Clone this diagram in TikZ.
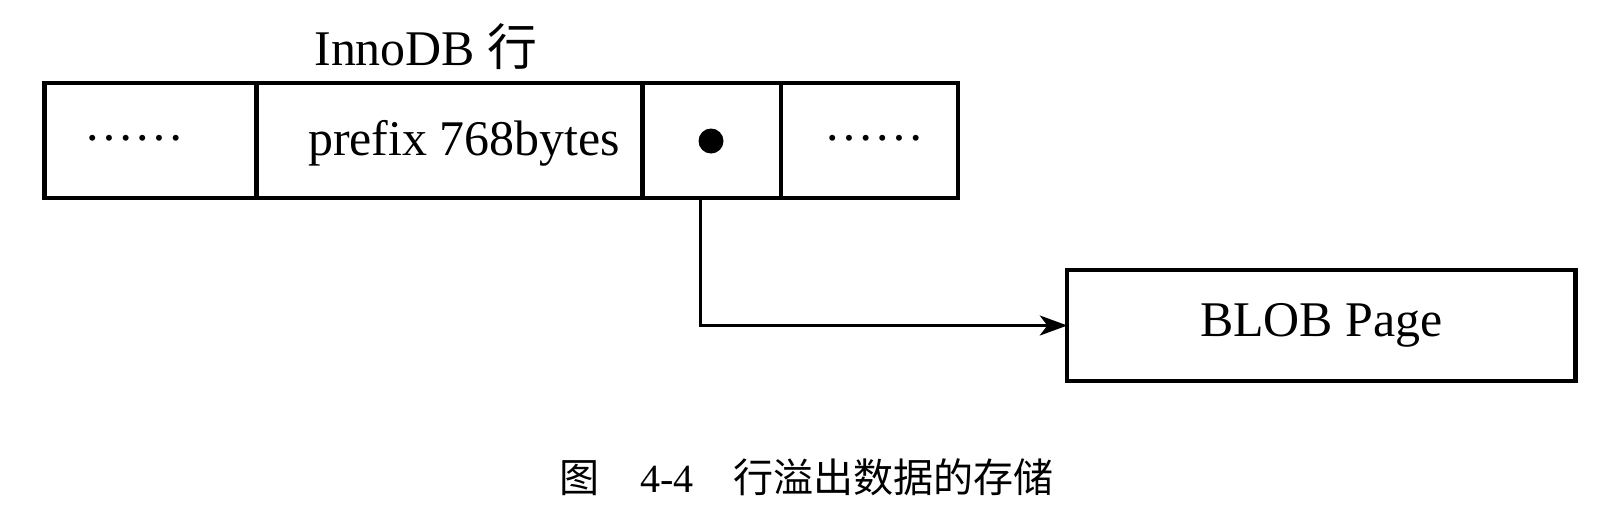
\documentclass[tikz,border=0pt]{standalone}
\usepackage{fontspec}
\setmainfont{Liberation Serif}
\newfontfamily\cjk{Noto Sans CJK SC}
\usetikzlibrary{arrows.meta}

\begin{document}
\begin{tikzpicture}[x=0.02cm, y=-0.02cm, font=\fontsize{28.4pt}{34pt}\selectfont,
	cell/.style={draw, line width=2.3pt, minimum height=2.314cm, outer sep=0pt, inner sep=0pt, anchor=west},
	link/.style={line width=1.7pt, -{Stealth[length=0.55cm, width=0.4cm, inset=0.15cm]}},
	line join=miter, line cap=rect]

	\useasboundingbox (0,0) rectangle (1620,522);

	% Zeile
	\node[anchor=base] (title) at (426,65) {InnoDB {\cjk 行}};
	\node[cell, minimum width=4.24cm] (c1) at (44.5,140.5) {};
	\node[cell, minimum width=7.72cm] (c2) at (256.5,140.5) {};
	\node[cell, minimum width=2.77cm] (c3) at (642.6,140.5) {};
	\node[cell, minimum width=3.534cm] (c4) at (781.1,140.5) {};

	% Inhalt
	\node[anchor=base] (dotsA) at (134,140) {……};
	\node[anchor=base] (prefix) at (464,155) {prefix 768bytes};
	\node[circle, fill, minimum size=0.5cm, inner sep=0pt] (ptr) at (711,141) {};
	\node[anchor=base] (dotsB) at (874,140) {……};

	% BLOB
	\node[cell, minimum width=10.166cm, minimum height=2.232cm] (blob) at (1067.3,325.5) {BLOB Page};
	\coordinate (tail) at (700.7,198.4);
	\draw[link] (tail) |- (blob.west);

	% Bildunterschrift
	\node[font=\fontsize{22.8pt}{27pt}\selectfont] (caption) at (807,477) {{\cjk 图}\quad 4-4\quad{\cjk 行溢出数据的存储}};

\end{tikzpicture}
\end{document}
